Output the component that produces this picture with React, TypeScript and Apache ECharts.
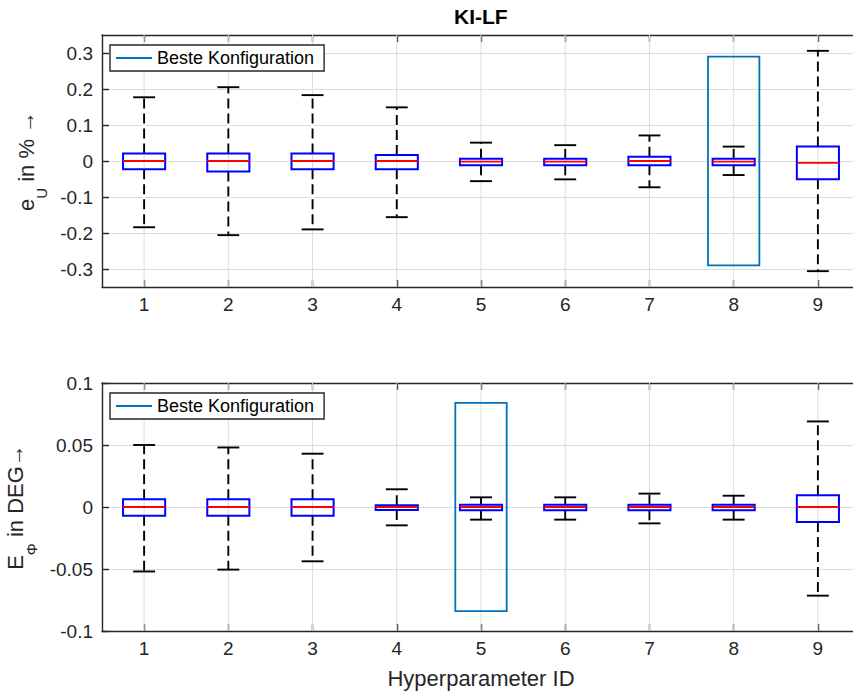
import React, { useEffect, useRef } from "react";
import * as echarts from "echarts";

// ---- data ----
const ids = ["1", "2", "3", "4", "5", "6", "7", "8", "9"];

// top panel: e_U in %
const euLower = [-0.184, -0.206, -0.19, -0.156, -0.056, -0.051, -0.073, -0.039, -0.306];
const euQ1 = [-0.023, -0.029, -0.023, -0.023, -0.012, -0.012, -0.012, -0.012, -0.051];
const euMedian = [0, 0, 0, 0, -0.002, -0.002, 0, -0.002, -0.005];
const euQ3 = [0.021, 0.021, 0.021, 0.017, 0.006, 0.006, 0.012, 0.006, 0.04];
const euUpper = [0.177, 0.205, 0.183, 0.149, 0.051, 0.044, 0.071, 0.04, 0.306];

// bottom panel: E_phi in DEG
const ephLower = [-0.052, -0.0505, -0.0438, -0.0148, -0.0102, -0.0102, -0.0132, -0.0102, -0.0715];
const ephQ1 = [-0.007, -0.007, -0.007, -0.0024, -0.0027, -0.0027, -0.0027, -0.0027, -0.0121];
const ephMedian = [0, 0, 0, 0, 0, 0, 0, 0, 0];
const ephQ3 = [0.0062, 0.0062, 0.0062, 0.0014, 0.0019, 0.0019, 0.0019, 0.0019, 0.0094];
const ephUpper = [0.05, 0.048, 0.043, 0.0143, 0.0078, 0.0078, 0.0108, 0.0091, 0.069];

// best configuration marker (top, bottom)
const bestId = ["8", "5"];
const bestLow = [-0.29, -0.084];
const bestHigh = [0.29, 0.084];

const legendName = "Beste Konfiguration";
const FONT = "'Liberation Sans', Arial, Helvetica, sans-serif";
const AX = "#262626";
const GRIDC = "#dcdcdc";

function boxData(lo: number[], q1: number[], med: number[], q3: number[], up: number[]) {
  return ids.map((_, i) => [i, lo[i], q1[i], med[i], q3[i], up[i]]);
}

const boxRender = (params: any, api: any) => {
  const x = api.value(0);
  const pLo = api.coord([x, api.value(1)]);
  const cx = pLo[0];
  const yLo = pLo[1];
  const yQ1 = api.coord([x, api.value(2)])[1];
  const yMed = api.coord([x, api.value(3)])[1];
  const yQ3 = api.coord([x, api.value(4)])[1];
  const yUp = api.coord([x, api.value(5)])[1];
  const band = api.size([1, 0])[0];
  const cs = params.coordSys;
  const bw = band * 0.5;
  const cw = band * 0.26;
  const under = { stroke: "#ffffff", lineWidth: 3 };
  const dash = { stroke: "#000", lineWidth: 1.9, lineDash: [10, 5] };
  const solid = { stroke: "#000", lineWidth: 1.9 };
  return {
    type: "group",
    children: [
      // vertical grid line at the tick of this category
      { type: "line", shape: { x1: cx, y1: cs.y, x2: cx, y2: cs.y + cs.height }, style: { stroke: GRIDC, lineWidth: 1 } },
      { type: "line", shape: { x1: cx, y1: yQ3, x2: cx, y2: yUp }, style: under },
      { type: "line", shape: { x1: cx, y1: yQ1, x2: cx, y2: yLo }, style: under },
      { type: "line", shape: { x1: cx, y1: yQ3, x2: cx, y2: yUp }, style: dash },
      { type: "line", shape: { x1: cx, y1: yQ1, x2: cx, y2: yLo }, style: dash },
      { type: "line", shape: { x1: cx - cw / 2, y1: yUp, x2: cx + cw / 2, y2: yUp }, style: solid },
      { type: "line", shape: { x1: cx - cw / 2, y1: yLo, x2: cx + cw / 2, y2: yLo }, style: solid },
      {
        type: "rect",
        shape: { x: cx - bw / 2, y: yQ3, width: bw, height: yQ1 - yQ3 },
        style: { fill: "none", stroke: "#0000ff", lineWidth: 2 },
      },
      {
        type: "line",
        shape: { x1: cx - bw / 2, y1: yMed, x2: cx + bw / 2, y2: yMed },
        style: { stroke: "#ff0000", lineWidth: 1.8 },
      },
    ],
  };
};

const bestRender = (params: any, api: any) => {
  const x = api.value(0);
  const pLo = api.coord([x, api.value(1)]);
  const yHi = api.coord([x, api.value(2)])[1];
  const band = api.size([1, 0])[0];
  const w = band * 0.61;
  return {
    type: "rect",
    shape: { x: pLo[0] - w / 2, y: yHi, width: w, height: pLo[1] - yHi },
    style: { fill: "none", stroke: "#0072BD", lineWidth: 1.8 },
  };
};

function xAxes(gridIndex: number, withName: boolean) {
  const common = {
    type: "category",
    gridIndex,
    data: ids,
    axisLine: { show: true, onZero: false, lineStyle: { color: AX, width: 1.4 } },
    axisTick: { show: true, inside: true, length: 7, alignWithLabel: true, lineStyle: { color: AX, width: 1.4 } },
    splitLine: { show: false },
  };
  return [
    {
      ...common,
      position: "bottom",
      axisLabel: { fontSize: 19, color: AX, fontFamily: FONT, margin: 8 },
      ...(withName
        ? {
            name: "Hyperparameter ID",
            nameLocation: "middle",
            nameGap: 36,
            nameTextStyle: { fontSize: 22, color: AX, fontFamily: FONT },
          }
        : {}),
    },
    { ...common, position: "top", axisLabel: { show: false } },
  ];
}

function yAxes(gridIndex: number, range: any, name: string, nameGap: number) {
  const tick = { show: true, inside: true, length: 7, lineStyle: { color: AX, width: 1.4 } };
  return [
    {
      type: "value",
      gridIndex,
      position: "left",
      ...range,
      axisLine: { show: true, onZero: false, lineStyle: { color: AX, width: 1.4 } },
      axisTick: tick,
      axisLabel: {
        fontSize: 19,
        color: AX,
        fontFamily: FONT,
        margin: 9,
        showMinLabel: range.interval !== undefined,
        showMaxLabel: range.interval !== undefined,
      },
      splitLine: { show: true, lineStyle: { color: GRIDC, width: 1 } },
      name,
      nameLocation: "middle",
      nameRotate: 90,
      nameGap,
      nameTextStyle: {
        fontFamily: FONT,
        color: AX,
        rich: {
          a: { fontSize: 22, lineHeight: 26, verticalAlign: "top", color: AX, fontFamily: FONT },
          s: { fontSize: 15, lineHeight: 17, padding: [19, 0, 0, 0], verticalAlign: "top", color: AX, fontFamily: FONT },
        },
      },
    },
    {
      type: "value",
      gridIndex,
      position: "right",
      ...range,
      axisLine: { show: true, onZero: false, lineStyle: { color: AX, width: 1.4 } },
      axisTick: tick,
      axisLabel: { show: false },
      splitLine: { show: false },
    },
  ];
}

function legendFor(top: number) {
  return {
    left: 110,
    top,
    z: 10,
    orient: "horizontal",
    data: [legendName],
    icon: "rect",
    itemWidth: 36,
    itemHeight: 2,
    itemStyle: { color: "#0072BD", borderWidth: 0 },
    selectedMode: false,
    backgroundColor: "#ffffff",
    borderColor: AX,
    borderWidth: 1.4,
    padding: [4, 10, 4, 6],
    textStyle: { fontSize: 18, color: "#000", fontFamily: FONT },
  };
}

export default function App() {
  const ref = useRef<HTMLDivElement>(null);
  useEffect(() => {
    if (!ref.current) return;
    const chart = echarts.init(ref.current, null, { renderer: "svg" });
    const option: any = {
      animation: false,
      backgroundColor: "#ffffff",
      title: {
        text: "KI-LF",
        left: 454,
        top: 6,
        padding: 0,
        textStyle: { fontSize: 21, fontWeight: "bold", color: "#000", fontFamily: FONT },
      },
      legend: [legendFor(45), legendFor(393)],
      grid: [
        { left: 102, top: 35, right: -7, height: 252, show: false, containLabel: false, outerBoundsMode: "none" },
        { left: 102, top: 383, right: -7, height: 248, show: false, containLabel: false, outerBoundsMode: "none" },
      ],
      xAxis: [...xAxes(0, false), ...xAxes(1, true)],
      yAxis: [
        ...yAxes(0, { min: -0.35, max: 0.35, splitNumber: 7 }, "{a|e}{s|U}{a| in % →}", 48),
        ...yAxes(1, { min: -0.1, max: 0.1, interval: 0.05 }, "{a|E}{s|Φ}{a| in DEG→}", 60),
      ],
      series: [
        {
          type: "custom",
          name: "boxes-top",
          xAxisIndex: 0,
          yAxisIndex: 0,
          z: 3,
          renderItem: boxRender,
          encode: { x: 0, y: [1, 2, 3, 4, 5] },
          data: boxData(euLower, euQ1, euMedian, euQ3, euUpper),
        },
        {
          type: "custom",
          name: legendName,
          xAxisIndex: 0,
          yAxisIndex: 0,
          z: 4,
          itemStyle: { color: "#0072BD" },
          renderItem: bestRender,
          encode: { x: 0, y: [1, 2] },
          data: [[ids.indexOf(bestId[0]), bestLow[0], bestHigh[0]]],
        },
        {
          type: "custom",
          name: "boxes-bottom",
          xAxisIndex: 2,
          yAxisIndex: 2,
          z: 3,
          renderItem: boxRender,
          encode: { x: 0, y: [1, 2, 3, 4, 5] },
          data: boxData(ephLower, ephQ1, ephMedian, ephQ3, ephUpper),
        },
        {
          type: "custom",
          name: legendName,
          xAxisIndex: 2,
          yAxisIndex: 2,
          z: 4,
          itemStyle: { color: "#0072BD" },
          renderItem: bestRender,
          encode: { x: 0, y: [1, 2] },
          data: [[ids.indexOf(bestId[1]), bestLow[1], bestHigh[1]]],
        },
      ],
    };
    chart.setOption(option);
    return () => chart.dispose();
  }, []);
  return (
    <div
      ref={ref}
      style={{ position: "fixed", left: 0, top: 0, width: 853, height: 693, background: "#fff" }}
    />
  );
}
